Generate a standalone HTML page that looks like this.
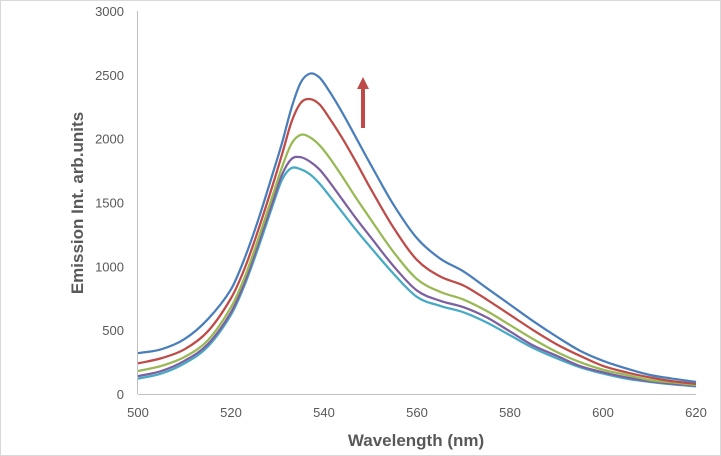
<!DOCTYPE html>
<html><head><meta charset="utf-8"><style>
html,body{margin:0;padding:0;background:#fff;}
svg{display:block;font-family:"Liberation Sans",sans-serif;}
</style></head><body>
<svg width="721" height="456">
<rect x="0.5" y="0.5" width="720" height="455" fill="#fff" stroke="#d9d9d9"/>
<g id="yticks"></g>
<g id="xticks"></g>
<line id="xaxis" stroke="#bfbfbf" stroke-width="1"/>
<line id="yaxis" stroke="#bfbfbf" stroke-width="1"/>
<g id="series"></g>
<g>
<line x1="363" y1="128" x2="363" y2="88" stroke="#be4b48" stroke-width="4"/>
<polygon points="357,89 369,89 363,77" fill="#be4b48"/>
</g>
<text x="416" y="446" text-anchor="middle" font-size="17" font-weight="bold" fill="#595959">Wavelength (nm)</text>
<text transform="translate(83,203) rotate(-90)" text-anchor="middle" font-size="17" font-weight="bold" fill="#595959">Emission Int. arb.units</text>
</svg>
<script>
const wavelengths=[500,505,510,515,520,523,526,529,531,533,535,537,539,541,544,547,550,555,560,565,570,575,580,585,590,595,600,605,610,615,620];
const blueSeries=[320,350,430,585,820,1070,1380,1730,1970,2240,2440,2510,2480,2380,2200,2000,1800,1480,1220,1060,960,830,700,570,450,340,260,200,150,120,95];
const redSeries=[240,280,350,490,750,990,1300,1640,1880,2130,2280,2310,2270,2170,2000,1810,1610,1300,1050,920,850,740,620,500,390,300,220,170,130,100,80];
const greenSeries=[180,220,290,420,680,920,1230,1560,1780,1960,2030,2010,1950,1860,1700,1530,1370,1110,900,800,740,650,540,430,330,250,190,150,110,90,70];
const purpleSeries=[140,180,260,390,640,880,1190,1510,1720,1840,1855,1820,1760,1670,1520,1370,1230,1000,810,730,680,600,490,380,300,220,170,130,100,80,65];
const cyanSeries=[120,160,240,370,620,860,1160,1480,1680,1770,1760,1720,1650,1560,1420,1280,1150,940,760,690,640,560,460,360,280,210,160,120,95,75,60];
const yTickLabels=[0,500,1000,1500,2000,2500,3000];
const xTickLabels=[500,520,540,560,580,600,620];
const X0=138,X1=696,Y0=394,Y1=11;
const xs=v=>X0+(v-500)/120*(X1-X0);
const ys=v=>Y0-v/3000*(Y0-Y1);
const NS="http://www.w3.org/2000/svg";
const xa=document.getElementById('xaxis');
xa.setAttribute('x1',X0);xa.setAttribute('x2',X1);xa.setAttribute('y1',Y0+0.5);xa.setAttribute('y2',Y0+0.5);
const ya=document.getElementById('yaxis');
ya.setAttribute('x1',X0-0.5);ya.setAttribute('x2',X0-0.5);ya.setAttribute('y1',Y1);ya.setAttribute('y2',Y0);
const yt=document.getElementById('yticks');
yTickLabels.forEach(v=>{const t=document.createElementNS(NS,'text');


t.setAttribute('x',X0-14);t.setAttribute('y',ys(v)+5);t.setAttribute('text-anchor','end');t.setAttribute('font-size','13');t.setAttribute('fill','#595959');t.textContent=v;yt.appendChild(t);});
const xt=document.getElementById('xticks');
xTickLabels.forEach(v=>{const t=document.createElementNS(NS,'text');


t.setAttribute('x',xs(v));t.setAttribute('y',Y0+23);t.setAttribute('text-anchor','middle');t.setAttribute('font-size','13');t.setAttribute('fill','#595959');t.textContent=v;xt.appendChild(t);});
const sg=document.getElementById('series');
[[cyanSeries,'#46aac5','cyan'],[purpleSeries,'#7d60a0','purple'],[greenSeries,'#98b954','green'],[redSeries,'#be4b48','red'],[blueSeries,'#4a7ebb','blue']].forEach(([d,c,n])=>{
const pts=wavelengths.map((w,i)=>[xs(w),ys(d[i])]);
let p='M'+pts[0][0]+','+pts[0][1];
for(let i=0;i<pts.length-1;i++){const p0=pts[Math.max(i-1,0)],p1=pts[i],p2=pts[i+1],p3=pts[Math.min(i+2,pts.length-1)];
const k1=(p2[0]-p1[0])/(p2[0]-p0[0]||1)/3,k2=(p2[0]-p1[0])/(p3[0]-p1[0]||1)/3;
p+=' C'+(p1[0]+(p2[0]-p0[0])*k1)+','+(p1[1]+(p2[1]-p0[1])*k1)+' '+(p2[0]-(p3[0]-p1[0])*k2)+','+(p2[1]-(p3[1]-p1[1])*k2)+' '+p2[0]+','+p2[1];}
const el=document.createElementNS(NS,'path');


el.setAttribute('d',p);el.setAttribute('fill','none');el.setAttribute('stroke',c);el.setAttribute('stroke-width','2.25');sg.appendChild(el);});
</script>
</body></html>
